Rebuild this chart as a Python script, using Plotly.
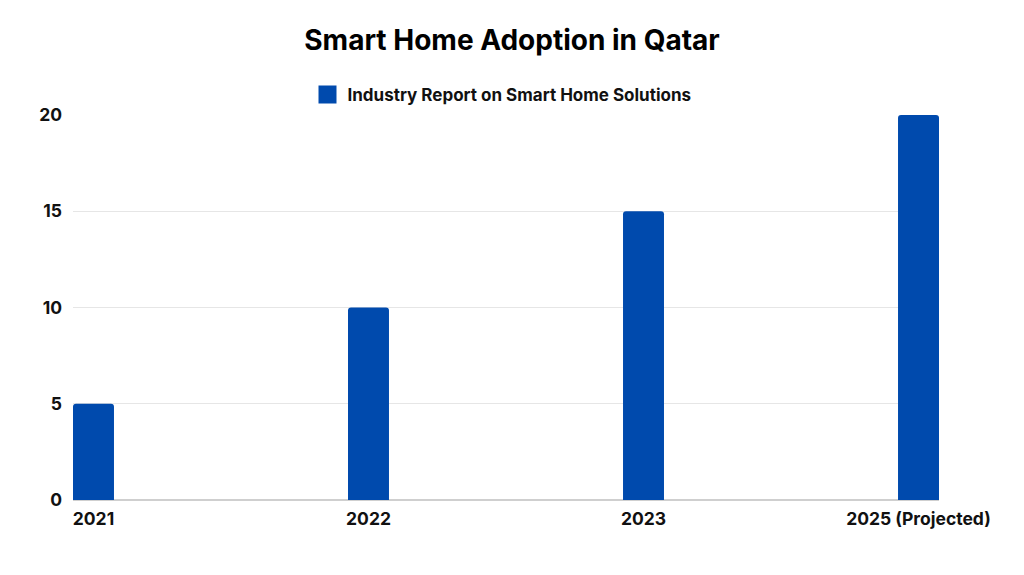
import plotly.graph_objects as go

categories = ["2021", "2022", "2023", "2025 (Projected)"]
values = [5, 10, 15, 20]
series_name = "Industry Report on Smart Home Solutions"
y_ticks = [0, 5, 10, 15, 20]

positions = list(range(len(categories)))
bar_w = 0.149
color = "#004AAD"

# page body has an 8px default margin; compensate so the plot lands where the reference has it
OFF = 8

fig = go.Figure()
fig.add_trace(go.Bar(
    x=positions, y=values, width=bar_w, name=series_name,
    marker=dict(color=color, line=dict(width=0)),
    showlegend=False,
))
# legend entry with a large square swatch
fig.add_trace(go.Scatter(
    x=[None], y=[None], mode="markers", name=series_name,
    marker=dict(symbol="square", size=20, color=color, line=dict(color=color, width=2)),
    showlegend=True,
))

fig.update_layout(
    width=1024, height=575,
    paper_bgcolor="white", plot_bgcolor="white",
    margin=dict(l=73 - OFF, r=1024 - 939 + OFF, t=115 - OFF, b=75 + OFF),
    barcornerradius=3,
    font=dict(family="Inter, Roboto, sans-serif", color="#111111"),
    title=dict(
        text="Smart Home Adoption in Qatar",
        x=(512 - OFF) / 1024, xanchor="center", y=1 - (40 - OFF) / 575, yanchor="middle",
        font=dict(size=28, weight="bold", family="Inter", color="#000000"),
    ),
    legend=dict(
        orientation="h", x=0.5 - 4 / 866, xanchor="center", y=1 + 20 / 385, yanchor="middle",
        font=dict(size=17, weight="bold", family="Inter", color="#111111"),
        itemsizing="trace", itemwidth=30,
    ),
    xaxis=dict(
        tickmode="array", tickvals=positions, ticktext=categories,
        range=[-bar_w / 2, positions[-1] + bar_w / 2],
        showgrid=False, zeroline=False,
        showline=False, ticks="", ticklen=0, ticklabelstandoff=6,
        tickfont=dict(size=17.5, weight="bold", family="Inter", color="#111111"),
    ),
    yaxis=dict(
        range=[0, 20], tickmode="array", tickvals=y_ticks,
        showgrid=True, gridcolor="#e6e6e6", gridwidth=1,
        zeroline=True, zerolinecolor="#cfcfcf", zerolinewidth=2,
        showline=False, ticks="", ticklabelstandoff=10,
        tickfont=dict(size=17.5, weight="bold", family="Inter", color="#111111"),
    ),
)

fig.write_html("out.html")
